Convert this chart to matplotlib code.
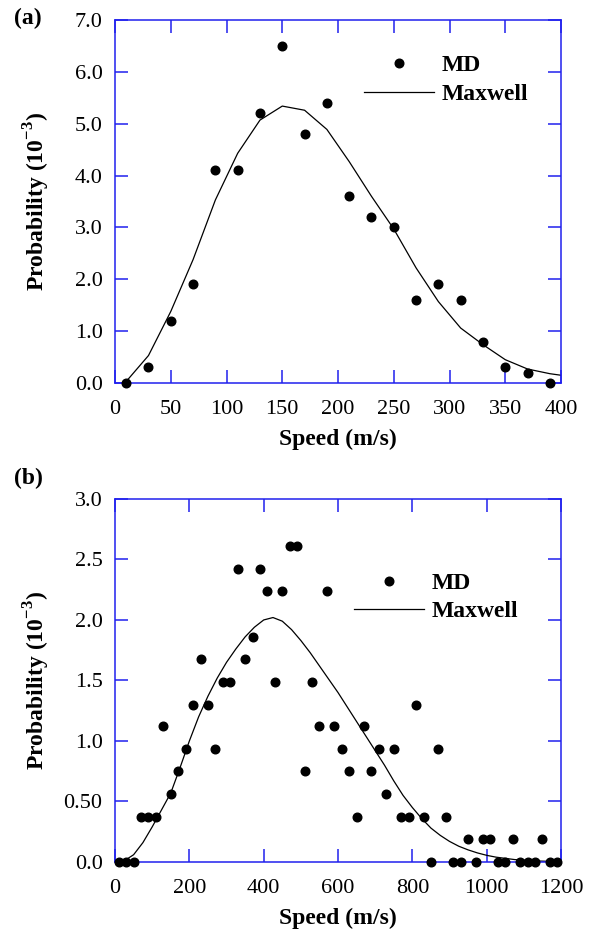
import matplotlib
matplotlib.use("Agg")
import matplotlib.pyplot as plt

plt.rcParams['font.family'] = ['Liberation Serif', 'DejaVu Serif']
plt.rcParams['mathtext.fontset'] = 'custom'
plt.rcParams['mathtext.rm'] = 'Liberation Serif'
plt.rcParams['mathtext.bf'] = 'Liberation Serif:bold'

# (a) MD histogram and Maxwell curve, 20 m/s bins
speed_a = [10, 30, 50, 70, 90, 110, 130, 150, 170, 190,
           210, 230, 250, 270, 290, 310, 330, 350, 370, 390]
md_a = [0.0, 0.3, 1.2, 1.9, 4.1, 4.1, 5.2, 6.5, 4.8, 5.4,
        3.6, 3.2, 3.0, 1.6, 1.9, 1.6, 0.8, 0.3, 0.2, 0.0]
fit_speed_a = speed_a + [410]
fit_a = [0.03, 0.53, 1.38, 2.38, 3.53, 4.43, 5.07, 5.34, 5.26, 4.89,
         4.27, 3.60, 2.97, 2.22, 1.57, 1.06, 0.74, 0.45, 0.27, 0.18, 0.12]

# (b)
speed_b = list(range(10, 1200, 20))
md_b = [0.0, 0.0, 0.0, 0.37, 0.37, 0.37, 1.12, 0.56, 0.75, 0.93,
        1.30, 1.68, 1.30, 0.93, 1.49, 1.49, 2.42, 1.68, 1.86, 2.42,
        2.24, 1.49, 2.24, 2.61, 2.61, 0.75, 1.49, 1.12, 2.24, 1.12,
        0.93, 0.75, 0.37, 1.12, 0.75, 0.93, 0.56, 0.93, 0.37, 0.37,
        1.30, 0.37, 0.0, 0.93, 0.37, 0.0, 0.0, 0.19, 0.0, 0.19,
        0.19, 0.0, 0.0, 0.19, 0.0, 0.0, 0.0, 0.19, 0.0, 0.0]
fit_speed_b = list(range(0, 1225, 25))
fit_b = [0.0, 0.01, 0.06, 0.16, 0.29, 0.43, 0.57, 0.78, 1.00, 1.20,
         1.37, 1.52, 1.65, 1.76, 1.86, 1.94, 2.00, 2.02, 1.99, 1.92,
         1.83, 1.73, 1.62, 1.51, 1.40, 1.28, 1.16, 1.04, 0.92, 0.80,
         0.67, 0.55, 0.45, 0.36, 0.28, 0.22, 0.17, 0.13, 0.10, 0.075,
         0.055, 0.04, 0.03, 0.02, 0.015, 0.01, 0.007, 0.005, 0.003]

yticks_a = [0, 1, 2, 3, 4, 5, 6, 7]
ylabels_a = ['0.0', '1.0', '2.0', '3.0', '4.0', '5.0', '6.0', '7.0']
yticks_b = [0, 0.5, 1.0, 1.5, 2.0, 2.5, 3.0]
ylabels_b = ['0.0', '0.50', '1.0', '1.5', '2.0', '2.5', '3.0']

blue = '#2020ee'

fig = plt.figure(figsize=(5.92, 9.34), dpi=100)
ax_a = fig.add_axes([0.1943, 0.5899, 0.7534, 0.3887])
ax_b = fig.add_axes([0.1943, 0.0771, 0.7534, 0.3887])


def style(ax, xmax, xstep, yticks, ylabels, ymax):
    ax.set_xlim(0, xmax)
    ax.set_ylim(0, ymax)
    ax.set_xticks(range(0, xmax + 1, xstep))
    ax.set_yticks(yticks)
    ax.set_yticklabels(ylabels)
    for s in ax.spines.values():
        s.set_color(blue)
        s.set_linewidth(1.1)
    ax.tick_params(direction='in', length=9.5, width=1.1, color=blue,
                   top=True, right=True, labelsize=16, pad=9)
    ax.tick_params(axis='x', pad=12)
    ax.set_xlabel('Speed (m/s)', fontsize=17, fontweight='bold', labelpad=7)
    ax.set_ylabel(r'Probability (10$^{\mathbf{-3}}$)', fontsize=17,
                  fontweight='bold')
    ax.yaxis.set_label_coords(-0.141, 0.5)


def draw(ax, sx, sy, fx, fy, leg_pos):
    ax.plot(sx, sy, 'o', color='black', markersize=6.2, clip_on=False,
            zorder=4, label='MD')
    ax.plot(fx, fy, '-', color='black', linewidth=0.9, label='Maxwell')
    leg = ax.legend(loc='center left', bbox_to_anchor=leg_pos, frameon=False,
                    numpoints=1, handlelength=2.95, handletextpad=0.35,
                    labelspacing=0.3, borderpad=0, borderaxespad=0,
                    prop={'weight': 'bold', 'size': 17})
    return leg


draw(ax_a, speed_a, md_a, fit_speed_a, fit_a, (0.558, 0.835))
style(ax_a, 400, 50, yticks_a, ylabels_a, 7)
draw(ax_b, speed_b, md_b, fit_speed_b, fit_b, (0.536, 0.729))
style(ax_b, 1200, 200, yticks_b, ylabels_b, 3)

fig.text(28 / 592, 1 - 18 / 934, '(a)', fontsize=17, fontweight='bold',
         ha='center', va='center')
fig.text(28 / 592, 1 - 478 / 934, '(b)', fontsize=17, fontweight='bold',
         ha='center', va='center')

fig.savefig('out.png', dpi=100)
